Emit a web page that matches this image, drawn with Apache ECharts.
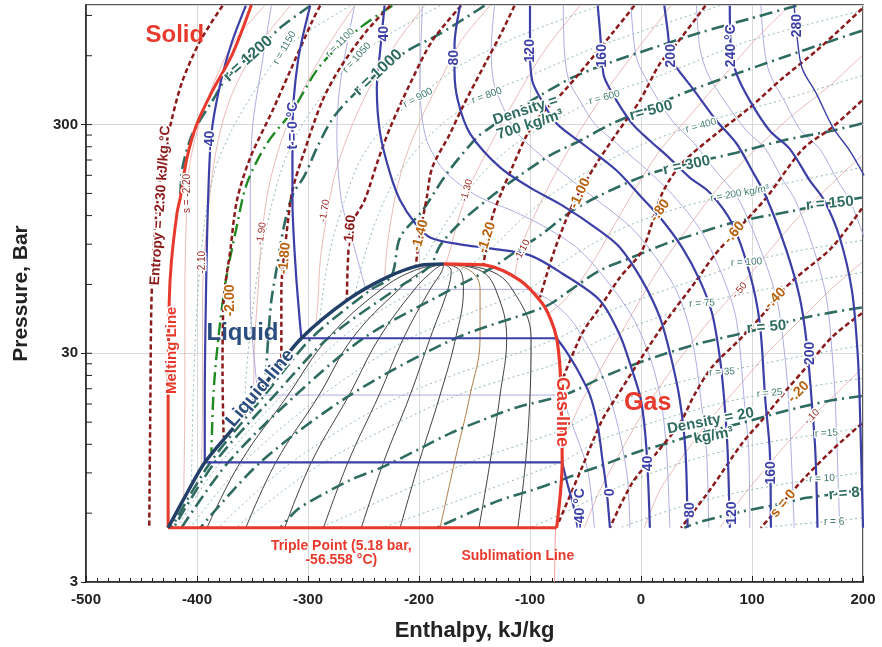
<!DOCTYPE html>
<html>
<head>
<meta charset="utf-8">
<title>CO2 pressure-enthalpy chart</title>
<script src="https://cdn.jsdelivr.net/npm/echarts@6/dist/echarts.min.js"></script>
<style>
  * { margin: 0; padding: 0; }
  body { background: #fff; }
  #main { width: 882px; height: 647px; }
</style>
</head>
<body>
<div id="main"></div>
<script>
// all points are [enthalpy kJ/kg, pressure bar]
const hRange = [-500, 200];
const pRange = [3, 1000];
const pTickMinor = [6, 9, 12, 15, 18, 21, 24, 27, 30, 60, 90, 120, 150, 180, 210, 240, 270, 300, 600, 900];

// saturation dome and solid boundaries
const liquidLine = [[-426,5.18],[-410,7.2],[-393,10],[-364,14.8],[-334,23.6],[-306,34.9],[-265,51.1],[-229,64.4],[-199,72.7],[-178,73.8]];
const gasLine = [[-178,73.8],[-159,73.5],[-139,72.7],[-109,62.5],[-89,49.6],[-81,41.8],[-76,34.9],[-73,26.1],[-72,18.7],[-71,10],[-76,5.18]];
const meltingLine = [[-426,5.18],[-426,18.7],[-425,51],[-423,76],[-418,123],[-415,144],[-409,215],[-400,303],[-386,422],[-368,612],[-351,1000]];
const tripleLine = [[-426,5.18],[-76,5.18]];
const sublimationLine = [[-77,5.18],[-78,3]];

// quality lines: enthalpy at each pressure level
const qualityP = [5.18, 10, 19.7, 34.9, 57.1, 69.1, 73.8];
const q10 = [-391,-361,-318,-282,-234,-204,-178];
const q20 = [-356,-329,-290,-260,-218,-196,-178];
const q30 = [-321,-297,-263,-236,-204,-187,-178];
const q40 = [-286,-264,-236,-214,-190,-179,-178];
const q50 = [-252,-232,-208,-190,-174,-171,-178];
const q60 = [-217,-200,-181,-167,-160,-163,-178];
const q70 = [-181,-168,-154,-145,-145,-154,-178];
const q80 = [-146,-136,-127,-121,-131,-145,-178];
const q90 = [-111,-104,-100,-99,-116,-137,-178];

// isotherms, bold
const tM40 = [[-356,993],[-369,677],[-379,453],[-387,274],[-390,140],[-392,51],[-393,18.7],[-393,10],[-71,10],[-66,7.96],[-61,6.51],[-57,5.18]];
const t0 = [[-298,993],[-309,571],[-314,282],[-314,140],[-311,69],[-306,34.9],[-76,34.9],[-68,30.9],[-57,25.3],[-46,19.7],[-39,14.5],[-35,10.5],[-31,7.57],[-28,5.18]];
const t40 = [[-231,993],[-235,631],[-238,435],[-235,274],[-226,183],[-217,140],[-204,112],[-190,96.3],[-163,89.8],[-136,86.2],[-100,80.4],[-71,67],[-37,51.1],[-19,36],[-8,25.3],[0,18.7],[5,11.3],[8,5.18]];
const t80 = [[-163,993],[-168,664],[-168,516],[-165,382],[-154,274],[-127,195],[-98,157],[-71,133],[-37,103],[-19,87.1],[1,62.5],[17,43.1],[27,28.8],[35,18.7],[40,11.3],[42,5.18]];
const t120 = [[-100,993],[-100,631],[-98,467],[-91,394],[-76,303],[-53,248],[-22,189],[-1,147],[17,118],[37,87.1],[53,62.5],[64,44.9],[71,28.8],[75,18.7],[78,11.3],[80,5.18]];
const t160 = [[-39,993],[-37,772],[-35,571],[-33,481],[-22,382],[-8,303],[8,255],[23,220],[44,176],[62,151],[82,111],[98,67],[107,40.6],[112,18.7],[116,11.3],[117,5.18]];
const t200 = [[21,993],[24,772],[27,588],[32,532],[46,435],[68,312],[86,248],[100,189],[113,144],[131,84.5],[143,52.6],[149,34.2],[153,20.7],[157,11.3],[159,5.18]];
const t240 = [[80,993],[81,650],[86,501],[98,382],[116,282],[134,235],[152,171],[165,140],[179,96.3],[190,56.5],[195,30.9],[197,18.7],[200,5.18]];
const t280 = [[138,993],[140,772],[145,532],[158,410],[173,291],[188,231],[201,180]];

// isotherms, faint
const tM20 = [[-333,993],[-342,532],[-350,291],[-352,140],[-352,51.1],[-345,19.7],[-72,19.7],[-60,13.8],[-48,9.25],[-42,5.18]];
const t20 = [[-258,993],[-271,453],[-274,274],[-270,140],[-260,93.4],[-248,57.1],[-101,57.1],[-82,51.1],[-64,42.6],[-51,34.2],[-37,25.3],[-27,18.7],[-18,12.5],[-12,8.37],[-10,5.18]];
const t60 = [[-197,993],[-199,453],[-198,345],[-193,255],[-181,199],[-168,171],[-145,144],[-116,126],[-85,106],[-55,84.5],[-26,58.2],[-6,41.8],[9,28],[18,18.7],[23,11.3],[26,5.18]];
const t100 = [[-132,993],[-135,631],[-133,467],[-127,382],[-111,274],[-77,195],[-45,147],[-6,103],[27,62.5],[41,43.1],[49,28.8],[54,18.7],[59,11.3],[61,5.18]];
const t140 = [[-70,993],[-69,631],[-65,467],[-55,382],[-42,303],[-22,248],[6,189],[29,147],[54,103],[75,62.5],[86,41.8],[93,18.7],[97,11.3],[98,5.18]];
const t180 = [[-9,993],[-4,588],[9,435],[28,312],[48,248],[67,189],[87,144],[108,84.5],[122,52.6],[128,34.2],[133,18.7],[138,5.18]];
const t220 = [[50,993],[53,650],[60,501],[75,382],[95,282],[112,235],[128,171],[139,140],[156,84.5],[167,52.6],[172,30.9],[175,18.7],[179,5.18]];
const t260 = [[108,993],[111,650],[116,501],[129,382],[144,282],[161,235],[177,171],[188,140],[201,96.3]];

// isentropes, bold (kJ/kg.K)
const sM230 = [[-377,993],[-397,698],[-413,467],[-423,312],[-432,189],[-438,103],[-441,51.1],[-442,18.7],[-443,5.18]];
const sM200 = [[-289,993],[-296,854],[-316,516],[-332,345],[-352,215],[-364,140],[-370,84.5],[-376,51.1],[-377,24.5],[-376,12.9]];
const sM180 = [[-226,993],[-247,772],[-271,532],[-287,382],[-303,231],[-314,154.5],[-320,93.4],[-324,56.5],[-324,35.3],[-324,27.4]];
const sM160 = [[-162,993],[-188,698],[-208,453],[-226,291],[-237,209],[-249,140],[-261,109],[-264,76.4],[-265,51.1]];
const sM140 = [[-114,993],[-127,734],[-139,571],[-161,356],[-172,274],[-188,195],[-193,144],[-199,100],[-203,72]];
const sM120 = [[-6,993],[-24,772],[-46,571],[-69,422],[-91,328],[-103,269],[-116,195],[-125,154.5],[-134,118],[-142,73.2]];
const sM100 = [[58,993],[50,880],[32,677],[17,554],[-1,382],[-22,274],[-40,203],[-53,159],[-62,133],[-78,84.5],[-91,52.7]];
const sM080 = [[199,963],[181,796],[158,631],[127,476],[98,356],[68,274],[37,203],[19,150],[1,84.5],[-19,64.4],[-37,47.6],[-53,36.7],[-71,22.9]];
const sM060 = [[199,382],[172,291],[146,235],[113,144],[86,103],[66,80.4],[50,62.5],[23,41.8],[-1,28],[-21,19.7],[-35,15.3],[-53,9.54],[-74,5.5]];
const sM040 = [[199,129],[172,87.1],[140,64.4],[125,54.8],[113,46.2],[91,35.3],[64,26.1],[48,19.7],[35,14.8],[14,11],[-8,8.12],[-28,5.18]];
const sM020 = [[199,44.9],[172,35.3],[149,26.1],[131,20.7],[109,15.3],[91,12.1],[62,7.57],[36,5.18]];
const s000 = [[199,14.8],[172,11.3],[143,8.12],[122,6.19],[108,5.18]];

// isentropes, faint
const sM220 = [[-339,993],[-366,698],[-384,467],[-397,312],[-406,209],[-409,140],[-411,51.1],[-411,18.7],[-412,7]];
const sM210 = [[-316,993],[-348,631],[-369,402],[-381,255],[-388,154.5],[-393,84.5],[-395,51.1],[-395,18.7],[-396,9.25]];
const sM190 = [[-258,993],[-285,631],[-307,402],[-324,255],[-336,154.5],[-342,93.4],[-345,56.5],[-348,34.2],[-349,20.1]];
const sM170 = [[-195,993],[-222,664],[-246,422],[-264,269],[-276,180],[-283,120],[-289,76.4],[-291,51.1],[-293,40]];
const sM150 = [[-136,993],[-162,698],[-181,467],[-199,312],[-213,209],[-222,140],[-228,93.4],[-231,65]];
const sM130 = [[-55,993],[-87,631],[-114,382],[-136,243],[-154,162],[-165,114],[-172,84.5],[-176,73.5]];
const sM110 = [[27,993],[-1,664],[-28,444],[-55,282],[-78,180],[-96,120],[-109,84.5],[-114,64]];
const sM090 = [[134,993],[102,698],[71,467],[44,328],[17,231],[-6,154.5],[-27,103],[-48,69.1],[-69,51.1],[-83,44.9]];
const sM070 = [[199,600],[170,444],[134,322],[102,231],[71,162],[44,109],[18,72.7],[-1,51.1],[-19,36],[-37,25.3],[-53,18.7],[-66,13.8],[-72,13.2]];
const sM050 = [[199,220],[170,162],[143,120],[116,84.5],[86,56.5],[62,41.8],[44,32.5],[21,22.9],[3,16.9],[-15,11.9],[-37,7.57],[-51,5.18]];
const sM030 = [[199,74.9],[170,56.5],[143,41.8],[116,30.9],[89,21.8],[62,15.3],[35,10.2],[17,7.57],[3,5.18]];
const sM010 = [[199,25.8],[179,20.7],[154,15.8],[134,12.5],[111,9.25],[89,6.84],[71,5.18]];

// isochores (density kg/m3), bold
const r1200 = [[-298,993],[-325,796],[-337,698],[-373,481],[-386,382],[-404,274],[-413,195],[-415,147]];
const r1100 = [[-224,993],[-253,796],[-289,543],[-314,345],[-337,248],[-355,166],[-365,103],[-374,62.5],[-380,37.8],[-385,20.7],[-387,11.1]];
const r1000 = [[-141,993],[-181,749],[-213,619],[-253,431],[-276,328],[-291,243],[-303,180],[-314,147],[-322,106],[-328,71.3],[-333,51.1],[-336,34.2],[-338,24.3]];
const r700 = [[140,993],[98,871],[53,757],[17,664],[-28,560],[-62,481],[-91,402],[-118,335],[-136,291],[-148,263],[-175,183],[-197,126],[-217,96.3],[-225,65],[-243,57.1],[-297,34.9],[-339,19.7],[-388,10],[-423,5.18]];
const r500 = [[199,772],[172,698],[127,588],[86,501],[44,422],[8,356],[-26,303],[-55,255],[-82,220],[-109,180],[-136,144],[-161,114],[-181,88.9],[-190,72.3],[-221,57.1],[-282,34.9],[-330,19.7],[-384,10],[-421,5.18]];
const r300 = [[199,303],[172,282],[127,255],[86,226],[44,203],[8,183],[-37,147],[-64,124],[-91,98.3],[-114,82.8],[-135,70.5],[-171,57.1],[-250,34.9],[-311,19.7],[-372,10],[-414,5.18]];
const r150 = [[199,144],[168,135.5],[134,125],[106,118],[82,111.6],[53,101],[23,90.7],[-8,78.8],[-37,69.1],[-64,56.5],[-86,48.1],[-167,34.9],[-262,19.7],[-343,10],[-397,5.18]];
const r50 = [[199,47.6],[172,45.3],[149,43.1],[113,39],[84,36],[53,33.2],[23,30],[-8,26.6],[-37,23.3],[-55,21.1],[-72,19.5],[-112,17.4],[-143,15.3],[-172,13.4],[-202,11.3],[-233,9.54],[-262,8.37],[-296,6.84],[-310,6.19],[-325,5.18]];
const r20 = [[199,19.5],[172,18.7],[143,17.4],[122,16.4],[89,14.8],[53,13.4],[23,12.1],[-1,11.2],[-19,10.4],[-37,9.63],[-53,9.07],[-72,8.37],[-98,7.57],[-127,6.84],[-157,5.94],[-184,5.18]];
const r8 = [[199,7.65],[183,7.36],[149,7.0],[131,6.67],[89,6.07],[53,5.49],[39,5.18]];

// isochores, faint
const r1150 = [[-262,993],[-303,749],[-323,631],[-348,422],[-369,282],[-384,189],[-393,114],[-399,56.5],[-403,22.9],[-405,7.96]];
const r1050 = [[-181,993],[-226,749],[-256,588],[-280,444],[-303,312],[-321,209],[-334,126],[-345,69.1],[-352,37.8],[-356,22.9],[-357,16.9]];
const r900 = [[-37,993],[-109,734],[-163,543],[-201,394],[-231,297],[-253,209],[-267,140],[-278,93.4],[-285,62.5],[-290,39.8]];
const r800 = [[71,993],[-37,664],[-100,491],[-139,410],[-172,322],[-199,243],[-222,171],[-237,120],[-249,80.4],[-258,53.7]];
const r600 = [[199,944],[98,698],[17,491],[-33,402],[-73,322],[-109,255],[-136,199],[-159,147],[-177,109],[-199,72.3]];
const r400 = [[199,491],[125,382],[53,303],[-1,243],[-46,189],[-82,147],[-109,114],[-132,88.9],[-154,73.2],[-202,57.1],[-270,34.9],[-379,10],[-418,5.18]];
const r200 = [[199,195],[143,171],[89,151],[35,130],[-10,109],[-46,88.9],[-78,70.5],[-100,57.6],[-208,34.9],[-287,19.7],[-358,10],[-406,5.18]];
const r100 = [[199,93.4],[143,84.5],[95,74.9],[53,63.8],[8,53.7],[-37,44],[-75,34.9],[-214,19.7],[-315,10],[-381,5.18]];
const r75 = [[199,67.7],[107,56.5],[55,49.6],[8,41.8],[-37,34.2],[-73,27.4],[-165,19.7],[-286,10],[-365,5.18]];
const r35 = [[199,32.5],[134,28.5],[73,24.8],[8,20.7],[-37,16.9],[-72,13.8],[-155,10],[-289,5.18]];
const r25 = [[199,23.3],[116,20.1],[71,18.1],[17,15.3],[-37,12.5],[-72,10.05],[-233,5.18]];
const r15 = [[199,14.2],[167,13.4],[125,12.5],[71,11.1],[17,9.25],[-37,7.19],[-74,5.88],[-100,5.18]];
const r10 = [[199,9.06],[163,8.5],[134,8.12],[89,7.42],[35,6.38],[-19,5.18]];
const r6 = [[199,5.72],[175,5.55],[143,5.38],[107,5.18]];

// text on the chart: [text, h, p, angle, kind]
const notes = [
  ['Solid', -420, 734, 0, 'solid'],
  ['Liquid', -359, 36.7, 0, 'liquid'],
  ['Gas', 6, 18.1, 0, 'gas'],
  ['Liquid line', -343, 21.1, 50, 'liqLine'],
  ['Gas line', -71, 16.6, -90, 'gasLine'],
  ['Melting Line', -423, 30.9, 90, 'melt'],
  ['Triple Point (5.18 bar,\n-56.558 °C)', -270, 4.02, 0, 'red'],
  ['Sublimation Line', -111, 3.9, 0, 'red'],
  ['Entropy = -2.30 kJ/kg.°C', -433, 133, 86, 'sDark'],
  ['s = -2.20', -409, 150, 90, 'sSm'],
  ['-2.10', -395, 75, 90, 'sSm'],
  ['-2.00', -370, 51.1, 90, 'sOr'],
  ['-1.90', -342, 100, 82, 'sSm'],
  ['-1.80', -321, 78, 85, 'sOr'],
  ['-1.70', -285, 126, 80, 'sSm'],
  ['-1.60', -262, 103, 85, 'sDark'],
  ['-1.40', -199, 98.3, 75, 'sOr'],
  ['-1.30', -157, 154.5, 75, 'sSm'],
  ['-1.20', -139, 96.3, 72, 'sOr'],
  ['-1.10', -107, 84.5, 62, 'sSm'],
  ['-1.00', -55, 150, 65, 'sOr'],
  ['-.80', 17, 126, 55, 'sOr'],
  ['-.60', 84, 101, 50, 'sOr'],
  ['-.50', 89, 56.5, 50, 'sSm'],
  ['-.40', 121, 52.1, 45, 'sOr'],
  ['-.20', 142, 20.3, 45, 'sOr'],
  ['-.10', 154, 15.8, 45, 'sSm'],
  ['s = 0', 128, 6.6, 50, 'sOr'],
  ['-40', -388, 255, 90, 'temp'],
  ['t = 0 °C', -313, 297, 90, 'temp'],
  ['40', -231, 749, 90, 'temp'],
  ['80', -168, 588, 90, 'temp'],
  ['120', -100, 631, 90, 'temp'],
  ['160', -35, 600, 90, 'temp'],
  ['200', 27, 600, 90, 'temp'],
  ['240 °C', 81, 664, 90, 'temp'],
  ['280', 141, 812, 90, 'temp'],
  ['-40 °C', -55, 6.32, 90, 'temp'],
  ['0', -28, 7.4, 90, 'temp'],
  ['40', 6, 9.9, 90, 'temp'],
  ['80', 44, 6.19, 90, 'temp'],
  ['120', 82, 6.0, 90, 'temp'],
  ['160', 117, 9.0, 90, 'temp'],
  ['200', 152, 30, 90, 'temp'],
  ['r = 1200', -354, 582, 42, 'rBig'],
  ['r = 1150', -321, 650, 60, 'rSm'],
  ['r = 1100', -271, 684, 45, 'rSm'],
  ['r = 1050', -256, 588, 48, 'rSm'],
  ['r = 1000', -237, 506, 43, 'rBig'],
  ['r = 900', -201, 393, 28, 'rSm'],
  ['r = 800', -139, 402, 20, 'rSm'],
  ['Density =\n700 kg/m³', -102, 322, 18, 'rB'],
  ['r = 600', -33, 394, 15, 'rSm'],
  ['r= 500', 9, 345, 15, 'rB'],
  ['r = 400', 54, 297, 15, 'rSm'],
  ['r = 300', 41, 199, 12, 'rB'],
  ['r = 200 kg/m³', 89, 150, 10, 'rSm'],
  ['r = 150', 170, 135.5, 5, 'rB'],
  ['r = 100', 95, 75, 3, 'rSm'],
  ['r = 75', 55, 49.6, 3, 'rSm'],
  ['r = 50', 113, 39, 5, 'rB'],
  ['r = 35', 73, 24.8, 3, 'rSm'],
  ['r = 25', 116, 20.1, 5, 'rSm'],
  ['Density = 20\nkg/m³', 64, 14.1, 11, 'rB'],
  ['r =15', 167, 13.4, 3, 'rSm'],
  ['r = 10', 163, 8.5, 3, 'rSm'],
  ['r = 8', 183, 7.3, 5, 'rB'],
  ['r = 6', 174, 5.5, 0, 'rSm']
];

const FONT = '"Liberation Sans", Arial, sans-serif';
const RED = '#e8392d', NAVY = '#223f68', BLUE = '#3b3fa6', DRED = '#8b1a1a', TEAL = '#2e6b60';
const noteStyle = {
  solid:   { c: RED, f: 'bold 24px ' + FONT },
  liquid:  { c: '#2b4c7e', f: 'bold 24px ' + FONT },
  gas:     { c: RED, f: 'bold 25px ' + FONT },
  liqLine: { c: '#2b4c7e', f: 'bold 19px ' + FONT, halo: 1 },
  gasLine: { c: RED, f: 'bold 18px ' + FONT, halo: 1 },
  melt:    { c: RED, f: 'bold 15px ' + FONT, halo: 1 },
  red:     { c: RED, f: 'bold 14px ' + FONT },
  temp:    { c: BLUE, f: 'bold 14px ' + FONT, halo: 1 },
  sOr:     { c: '#b8620f', f: 'bold 14px ' + FONT, halo: 1 },
  sDark:   { c: DRED, f: 'bold 14px ' + FONT, halo: 1 },
  sSm:     { c: '#9a2a24', f: '10px ' + FONT, halo: 1 },
  rBig:    { c: TEAL, f: 'bold 16px ' + FONT, halo: 1 },
  rB:      { c: TEAL, f: 'bold 15px ' + FONT, halo: 1 },
  rSm:     { c: '#3d7a6e', f: '10px ' + FONT, halo: 1 }
};

const lg = p => Math.log10(p / pRange[0]);
const series = [];

function addLine(pts, color, width, type, z, smooth) {
  series.push({
    type: 'line', data: pts.map(p => [p[0], lg(p[1])]),
    symbol: 'none', smooth: smooth, silent: true, z: z,
    lineStyle: { color: color, width: width, type: type }
  });
}

// isotherms have a flat piece inside the dome: split so the corners stay sharp
function addIsotherm(pts, color, width, z) {
  let cur = [pts[0]];
  for (let i = 1; i < pts.length; i++) {
    if (pts[i][1] === pts[i - 1][1]) {
      if (cur.length > 1) addLine(cur, color, width, 'solid', z, 0.3);
      addLine([pts[i - 1], pts[i]], color, width, 'solid', z, false);
      cur = [pts[i]];
    } else cur.push(pts[i]);
  }
  if (cur.length > 1) addLine(cur, color, width, 'solid', z, 0.3);
}

// faint background families
[sM220, sM210, sM190, sM170, sM150, sM130, sM110, sM090, sM070, sM050, sM030, sM010]
  .forEach(s => addLine(s, '#e3a9a6', 0.8, 'solid', 2, 0.3));
[r1150, r1050, r900, r800, r600, r400, r200, r100, r75, r35, r25, r15, r10, r6]
  .forEach(s => addLine(s, '#86b3a7', 0.9, [2, 3], 2, 0.3));
[tM20, t20, t60, t100, t140, t180, t220, t260]
  .forEach(s => addIsotherm(s, '#a4a4dc', 0.9, 2));

// quality lines inside the dome
[q10, q20, q30, q40, q50, q60, q70, q80, q90].forEach((q, i) => {
  addLine(q.map((h, k) => [h, qualityP[k]]), i === 6 ? '#9a5b1c' : '#111', 0.8, 'solid', 3, 0.4);
});

// bold isochores
const dashDot = [13, 5, 2, 5];
[r1200, r1000, r700, r500, r300, r150, r50, r20, r8]
  .forEach(s => addLine(s, TEAL, 2.6, dashDot, 4, 0.3));
addLine(r1100, '#1f8a22', 2.4, dashDot, 4, 0.3);

// bold isentropes
[sM230, sM200, sM180, sM160, sM140, sM120, sM100, sM080, sM060, sM040, sM020, s000]
  .forEach(s => addLine(s, DRED, 2.5, [5, 3], 5, 0.3));

// bold isotherms
[tM40, t0, t40, t80, t120, t160, t200, t240].forEach(s => addIsotherm(s, BLUE, 2.2, 6));
addLine(t280, BLUE, 1.4, 'solid', 6, 0.3);

// phase boundaries
addLine(sublimationLine, '#f2a09a', 1, 'solid', 7, false);
addLine(tripleLine, RED, 3, 'solid', 7, false);
addLine(meltingLine, RED, 3, 'solid', 7, 0.3);
addLine(gasLine, RED, 3.2, 'solid', 7, 0.3);
addLine(liquidLine, NAVY, 3.5, 'solid', 8, 0.3);

// inner ticks on the log pressure axis
series.push({
  type: 'custom', coordinateSystem: 'cartesian2d', silent: true, z: 9,
  data: pTickMinor.map(p => [hRange[0], lg(p)]),
  encode: { x: 0, y: 1 },
  renderItem: (params, api) => {
    const c = api.coord([api.value(0), api.value(1)]);
    return { type: 'line', shape: { x1: c[0], y1: c[1], x2: c[0] + 6, y2: c[1] },
             style: { stroke: '#222', lineWidth: 1 } };
  }
});

// annotations
series.push({
  type: 'custom', coordinateSystem: 'cartesian2d', silent: true, z: 12,
  data: notes.map((n, i) => [n[1], lg(n[2]), i]),
  encode: { x: 0, y: 1 },
  renderItem: (params, api) => {
    const n = notes[api.value(2)];
    const st = noteStyle[n[4]];
    const c = api.coord([api.value(0), api.value(1)]);
    return {
      type: 'text', x: c[0], y: c[1], rotation: n[3] * Math.PI / 180,
      style: {
        text: n[0], fill: st.c, font: st.f, align: 'center', verticalAlign: 'middle',
        stroke: st.halo ? '#fff' : null, lineWidth: st.halo ? 3 : 0
      }
    };
  }
});

const chart = echarts.init(document.getElementById('main'), null, { renderer: 'canvas' });
chart.setOption({
  animation: false,
  backgroundColor: '#fff',
  grid: { left: 86, right: 19, top: 5, bottom: 65, show: true, borderColor: '#222', borderWidth: 1.5, outerBoundsMode: 'none' },
  xAxis: {
    type: 'value', min: hRange[0], max: hRange[1], interval: 100,
    name: 'Enthalpy, kJ/kg', nameLocation: 'middle', nameGap: 38,
    nameTextStyle: { fontFamily: FONT, fontWeight: 'bold', fontSize: 22, color: '#222' },
    axisLine: { onZero: false, lineStyle: { color: '#222', width: 1.5 } },
    axisTick: { inside: true, length: 6, lineStyle: { color: '#222' } },
    minorTick: { show: true, splitNumber: 10, length: 4, lineStyle: { color: '#222' } },
    splitLine: { show: true, lineStyle: { color: '#d8d8d8', width: 1 } },
    axisLabel: { fontFamily: FONT, fontWeight: 'bold', fontSize: 15, color: '#222', margin: 10 }
  },
  yAxis: {
    type: 'value', min: 0, max: lg(pRange[1]), interval: 1,
    name: 'Pressure, Bar', nameLocation: 'middle', nameGap: 54,
    nameTextStyle: { fontFamily: FONT, fontWeight: 'bold', fontSize: 21, color: '#222' },
    axisLine: { onZero: false, lineStyle: { color: '#222', width: 1.5 } },
    axisTick: { length: 5, lineStyle: { color: '#222' } },
    splitLine: { show: true, lineStyle: { color: '#d8d8d8', width: 1 } },
    axisLabel: {
      fontFamily: FONT, fontWeight: 'bold', fontSize: 15, color: '#222', margin: 8, showMaxLabel: false,
      formatter: v => Math.abs(v - Math.round(v)) < 1e-6 ? String(Math.round(pRange[0] * Math.pow(10, Math.round(v)))) : ''
    }
  },
  series: series
});
</script>
</body>
</html>
